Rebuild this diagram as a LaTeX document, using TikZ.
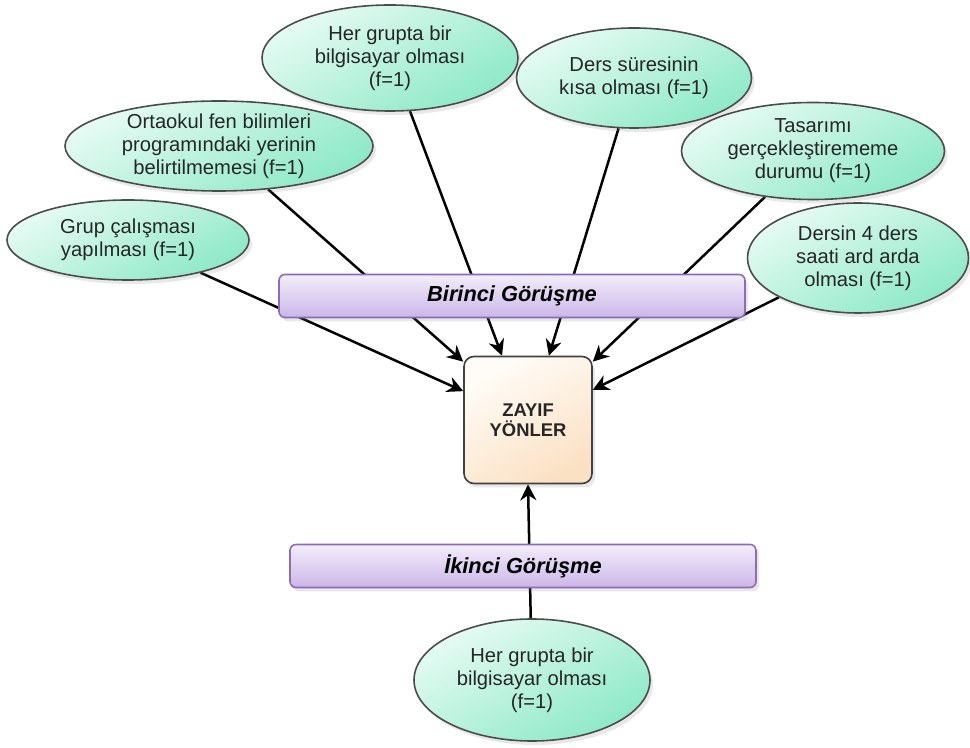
\documentclass[tikz,border=0pt]{standalone}
\usepackage{fontspec}
\setmainfont{Liberation Sans}
\usetikzlibrary{shapes.geometric,arrows.meta,shadows,backgrounds}

\definecolor{mintlight}{HTML}{E6FBF3}
\definecolor{mintdark}{HTML}{8DE9C7}
\definecolor{lilaclight}{HTML}{F3EDFB}
\definecolor{lilacdark}{HTML}{CBB6E8}
\definecolor{lilacline}{HTML}{8D6BB8}
\definecolor{peachlight}{HTML}{FFFCF8}
\definecolor{peachdark}{HTML}{FBE1C4}

\begin{document}
\begin{tikzpicture}[x=0.5pt,y=-0.5pt]
        \tikzstyle{bubble}=[ellipse,draw=black!70,line width=0.8pt,inner sep=0pt,top color=mintlight,bottom color=mintdark,shading angle=30,drop shadow={shadow xshift=1.5pt,shadow yshift=-2pt,opacity=0.18}]
        \tikzstyle{words}=[align=center,text=black!85,font=\fontsize{10.1}{11.5}\selectfont]
        \tikzstyle{phase}=[rectangle,rounded corners=3pt,draw=lilacline,line width=0.8pt,top color=lilaclight,bottom color=lilacdark,minimum width=233pt,minimum height=21.5pt,font=\fontsize{10.9}{12}\selectfont\bfseries\itshape,drop shadow={shadow xshift=1.5pt,shadow yshift=-2pt,opacity=0.18}]
        \tikzstyle{core}=[rectangle,rounded corners=5pt,draw=black!75,line width=0.8pt,top color=peachlight,bottom color=peachdark,shading angle=30,minimum width=64pt,minimum height=63.5pt,align=center,text=black!85,font=\fontsize{9.2}{10}\selectfont\bfseries,drop shadow={shadow xshift=1.5pt,shadow yshift=-2pt,opacity=0.18}]
        \tikzstyle{edge}=[draw=black,line width=1.25pt,-{Stealth[length=8pt,width=8pt]}]

        \useasboundingbox (0,0) rectangle (970,748);

        % first interview
        \node [bubble,minimum width=121pt,minimum height=40pt,label={[words]center:{Grup çalışması\\yapılması (f=1)}}] (grup) at (128,240) {};
        \node [bubble,minimum width=154pt,minimum height=45pt,label={[words]center:{Ortaokul fen bilimleri\\programındaki yerinin\\belirtilmemesi (f=1)}}] (ortaokul) at (219,146) {};
        \node [bubble,minimum width=128pt,minimum height=53pt,label={[words]center:{Her grupta bir\\bilgisayar olması\\(f=1)}}] (bilgisayar) at (390,58) {};
        \node [bubble,minimum width=117.5pt,minimum height=50pt,label={[words]center:{Ders süresinin\\kısa olması (f=1)}}] (sure) at (634,78) {};
        \node [bubble,minimum width=131.5pt,minimum height=48.5pt,label={[words]center:{Tasarımı\\gerçekleştirememe\\durumu (f=1)}}] (tasarim) at (813,151) {};
        \node [bubble,minimum width=110.5pt,minimum height=55pt,label={[words]center:{Dersin 4 ders\\saati ard arda\\olması (f=1)}}] (saat) at (858,258) {};

        \node [phase] (birinci) at (512,296) {Birinci Görüşme};
        \node [core] (zayif) at (528,420) {ZAYIF\\YÖNLER};

        % second interview
        \node [phase] (ikinci) at (523,566) {İkinci Görüşme};
        \node [bubble,minimum width=118pt,minimum height=61pt,label={[words]center:{Her grupta bir\\bilgisayar olması\\(f=1)}}] (bilgisayar2) at (532,680) {};

        \begin{pgfonlayer}{background}
 		\path[edge] (grup) edge (zayif.156);
 		\path[edge] (ortaokul) edge (zayif.138);
 		\path[edge] (bilgisayar) edge (zayif.112);
 		\path[edge] (sure) edge (zayif.72);
 		\path[edge] (tasarim) edge (zayif.42);
 		\path[edge] (saat) edge (zayif.25);
 		\path[edge] (bilgisayar2) edge (zayif.south);
        \end{pgfonlayer}
      \end{tikzpicture}
\end{document}
